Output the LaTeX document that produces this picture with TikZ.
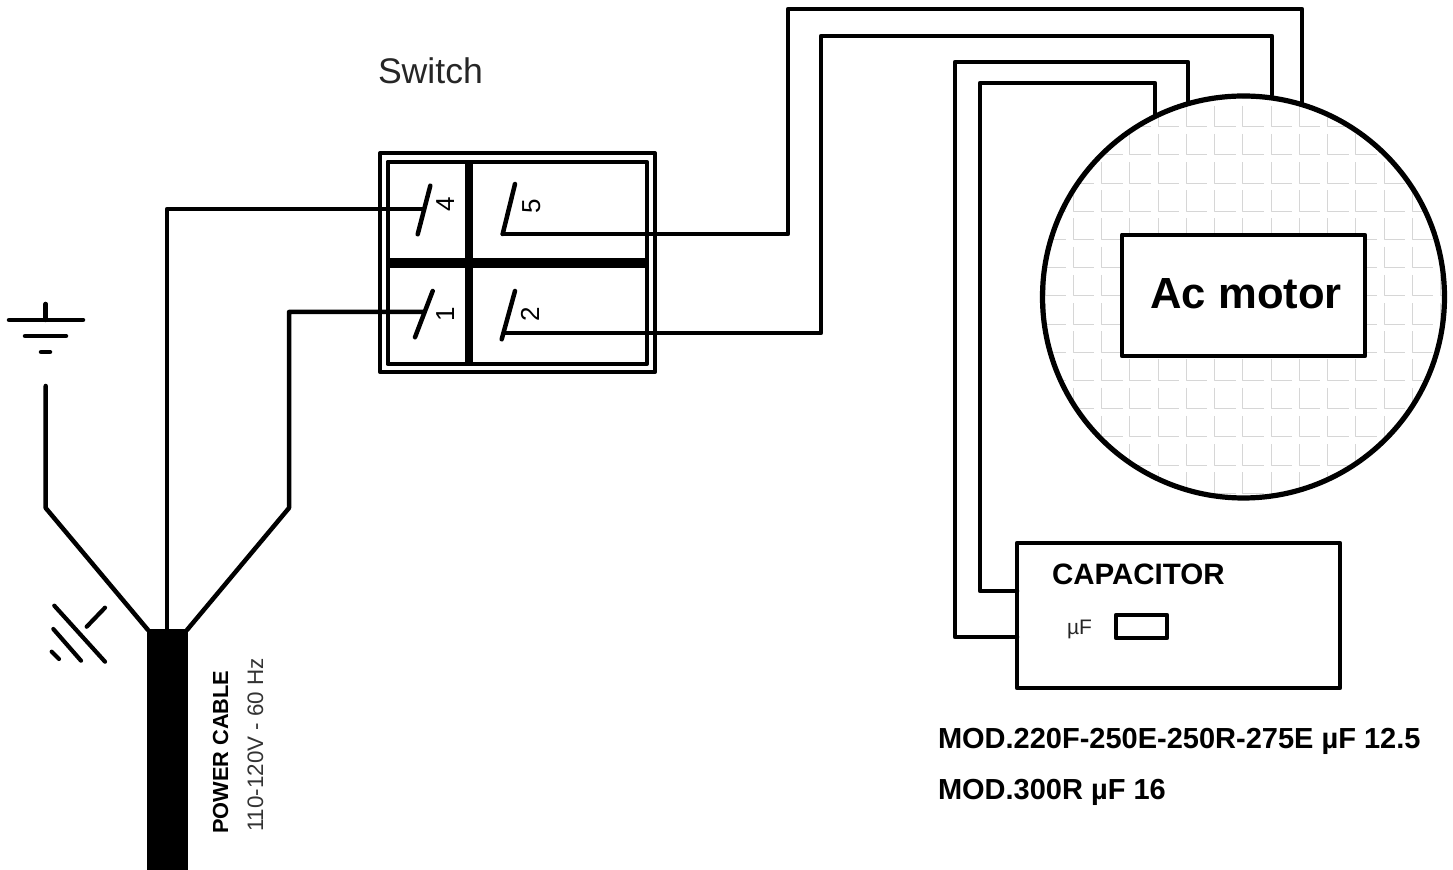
\documentclass[tikz,border=0pt]{standalone}
\usepackage{fontspec}
\setmainfont{Liberation Sans}
\begin{document}
\begin{tikzpicture}[x=0.5pt,y=-0.5pt,line join=round,
  wire/.style={draw=black,line width=2.25pt,line cap=round},
  thinwire/.style={draw=black,line width=2.1pt,line cap=round},
  boxn/.style={draw=black,line width=2.4pt,rectangle,inner sep=0pt,outer sep=0pt,anchor=north west},
  lab/.style={inner sep=0pt,outer sep=0pt,anchor=base west,text=black},
  gridl/.style={draw=black!16,line width=0.5pt}]
\useasboundingbox (0,0) rectangle (1453,870);
% coordinates
\coordinate (cabL) at (148,630);
\coordinate (cabM) at (167,630);
\coordinate (cabR) at (187,630);
\coordinate (gA) at (45.7,508);
\coordinate (gB) at (45.7,386);
\coordinate (mA) at (167,209);
\coordinate (rA) at (289,508);
\coordinate (rB) at (289,312);
\coordinate (c4) at (423,209);
\coordinate (c1) at (423,312);
\coordinate (c5) at (502.7,234);
\coordinate (c2) at (505,333);
\coordinate (t5a) at (788,234);
\coordinate (t5b) at (788,9);
\coordinate (t5c) at (1302,9);
\coordinate (t5d) at (1302,103);
\coordinate (t2a) at (821,333);
\coordinate (t2b) at (821,36);
\coordinate (t2c) at (1272,36);
\coordinate (t2d) at (1272,95);
\coordinate (k1) at (1188,62);
\coordinate (k2) at (955,62);
\coordinate (k3) at (955,637);
\coordinate (k4) at (1155,83);
\coordinate (k5) at (980,83);
\coordinate (k6) at (980,591);
\coordinate (k1e) at (1188,103);
\coordinate (k4e) at (1155,115);
% motor pattern
\begin{scope}
  \clip (1243.5,297) circle [radius=201];
  \foreach \i in {-1,...,14} \foreach \j in {-1,...,14} {
    \pgfmathsetmacro{\px}{1073.3+\i*28.25}
    \pgfmathsetmacro{\py}{126.7+\j*28.2}
    \draw[gridl] (\px,\py-21) -- (\px,\py) -- (\px+21,\py);
  }
\end{scope}
% wires
\draw[wire] (cabL) -- (gA) -- (gB);
\draw[wire] (cabM) -- (mA) -- (c4);
\draw[wire] (cabR) -- (rA) -- (rB) -- (c1);
\draw[wire] (c5) -- (t5a) -- (t5b) -- (t5c) -- (t5d);
\draw[wire] (c2) -- (t2a) -- (t2b) -- (t2c) -- (t2d);
% motor
\node[draw=black,line width=2.6pt,circle,inner sep=0pt,outer sep=0pt,minimum size=201pt] (motor) at (1243.5,297) {};
\node[boxn,fill=white,minimum width=121.5pt,minimum height=60.5pt] (acbox) at (1122,235) {};
\node[lab,font=\bfseries\fontsize{21.8}{22}\selectfont] (actxt) at (1150.5,309) {Ac motor};
% capacitor
\node[boxn,minimum width=161.5pt,minimum height=72.5pt] (cap) at (1017,543) {};
\node[boxn,minimum width=25.5pt,minimum height=11.5pt] (uf) at (1116,615) {};
\draw[wire] (k1e) -- (k1) -- (k2) -- (k3) -- (k3 -| cap.west);
\draw[wire] (k4e) -- (k4) -- (k5) -- (k6) -- (k6 -| cap.west);
\node[lab,font=\bfseries\fontsize{14.75}{15}\selectfont] (captxt) at (1052,585) {CAPACITOR};
\node[lab,text=black!85,font=\fontsize{10.5}{10.5}\selectfont] (uftxt) at (1067,635) {µF};
\node[lab,font=\bfseries\fontsize{14.5}{14.5}\selectfont] (mod1) at (938,749) {MOD.220F-250E-250R-275E µF 12.5};
\node[lab,font=\bfseries\fontsize{14.5}{14.5}\selectfont] (mod2) at (938,800) {MOD.300R µF 16};
% switch
\node[lab,text=black!85,font=\fontsize{17.8}{18}\selectfont] (swtxt) at (378,84) {Switch};
\node[boxn,line width=2pt,minimum width=137.5pt,minimum height=109.4pt] (swout) at (380,153.3) {};
\node[boxn,line width=2pt,minimum width=129.6pt,minimum height=101.2pt] (swin) at (387.6,161.7) {};
\draw[draw=black,line width=4pt] (swin.north -| 468.7,0) -- (swin.south -| 468.7,0);
\draw[draw=black,line width=5pt] (swin.west |- 0,262.7) -- (swin.east |- 0,262.7);
% contacts
\draw[wire] (417.7,234.3) -- (430.3,185.7);
\draw[wire] (c5) -- (515,184);
\draw[wire] (415,337.3) -- (432.7,291);
\draw[wire] (501.7,339.3) -- (515,291);
\node[lab,rotate=90,anchor=base,font=\fontsize{13}{13}\selectfont] (n4) at (454,204) {4};
\node[lab,rotate=90,anchor=base,font=\fontsize{13}{13}\selectfont] (n5) at (540,206) {5};
\node[lab,rotate=90,anchor=base,font=\fontsize{13}{13}\selectfont] (n1) at (454,314) {1};
\node[lab,rotate=90,anchor=base,font=\fontsize{13}{13}\selectfont] (n2) at (539,314) {2};
% cable
\node[fill=black,rectangle,inner sep=0pt,outer sep=0pt,anchor=north west,minimum width=20.5pt,minimum height=120.5pt] (cable) at (147,629.5) {};
\node[lab,rotate=90,font=\bfseries\fontsize{10.9}{11}\selectfont] (pc) at (228,834) {POWER CABLE};
\node[lab,rotate=90,text=black!80,font=\fontsize{11.2}{11}\selectfont] (volt) at (263,832) {110-120V - 60 Hz};
% ground
\draw[wire] (45.7,304) -- (45.7,320);
\draw[wire] (9,320) -- (83,320);
\draw[wire] (25,336) -- (66,336);
\draw[wire] (41,352) -- (50,352);
% chassis
\draw[thinwire] (54.3,605.7) -- (105,661.7);
\draw[thinwire] (53.3,629) -- (81,660.7);
\draw[thinwire] (51.7,651.7) -- (59,659);
\draw[thinwire] (86.7,626.7) -- (105,607.7);
\end{tikzpicture}
\end{document}
